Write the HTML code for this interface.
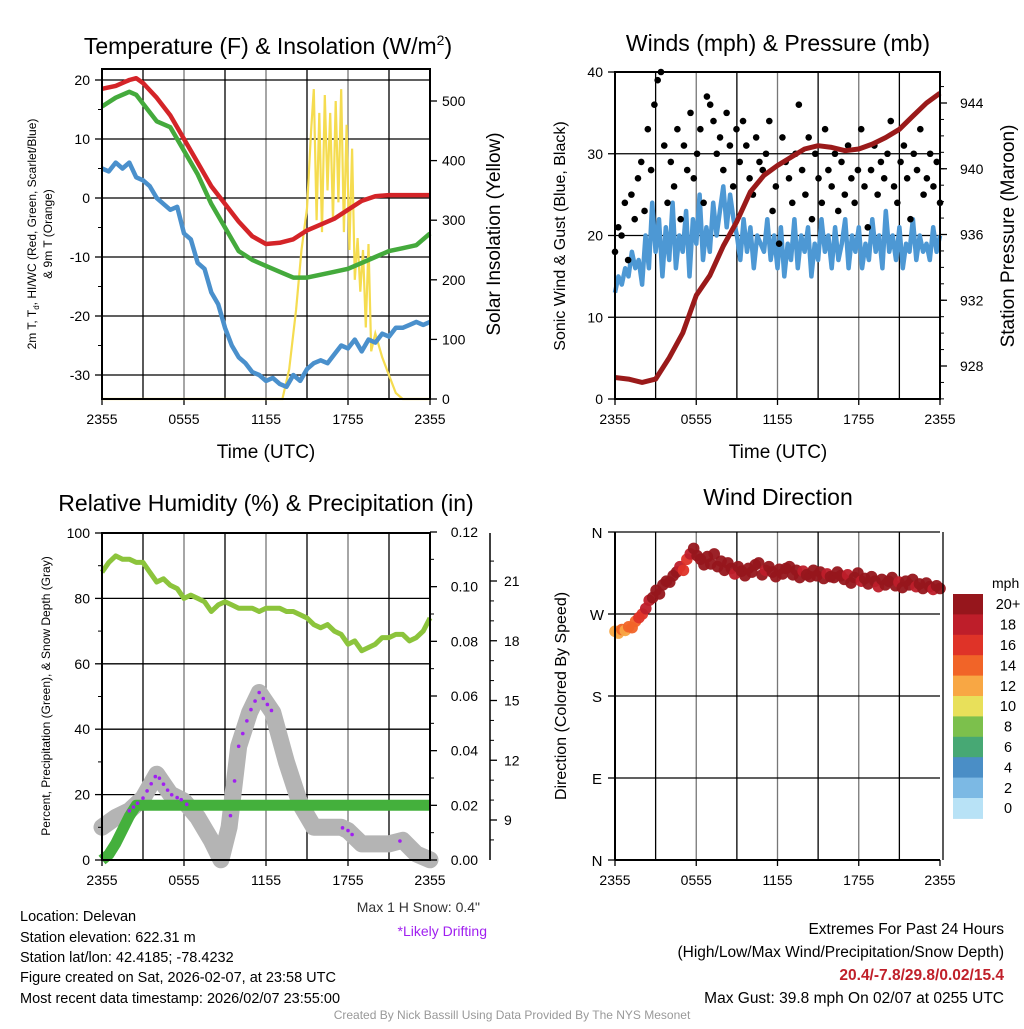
<!DOCTYPE html>
<html><head><meta charset="utf-8">
<style>
html,body{margin:0;padding:0;background:#fff;}
body{width:1024px;height:1024px;overflow:hidden;font-family:"Liberation Sans",sans-serif;}
svg text{font-family:"Liberation Sans",sans-serif;}
</style></head>
<body>
<svg id="chart" width="1024" height="1024" viewBox="0 0 1024 1024" xmlns="http://www.w3.org/2000/svg">
<text x="268" y="54" font-size="23" text-anchor="middle">Temperature (F) &amp; Insolation (W/m<tspan font-size="14" dy="-9">2</tspan><tspan dy="9">)</tspan></text>
<text x="778" y="51" font-size="23" text-anchor="middle">Winds (mph) &amp; Pressure (mb)</text>
<text x="266" y="511" font-size="23" text-anchor="middle">Relative Humidity (%) &amp; Precipitation (in)</text>
<text x="778" y="505" font-size="23" text-anchor="middle">Wind Direction</text>

<text x="266" y="458" font-size="19" text-anchor="middle">Time (UTC)</text>
<text x="778" y="458" font-size="19" text-anchor="middle">Time (UTC)</text>
<text transform="translate(36,234) rotate(-90)" font-size="12" text-anchor="middle">2m T, T<tspan font-size="8" dy="3">d</tspan><tspan dy="-3">, HI/WC (Red, Green, Scarlet/Blue)</tspan></text>
<text transform="translate(52,234) rotate(-90)" font-size="12" text-anchor="middle">&amp; 9m T (Orange)</text>
<text transform="translate(500,234) rotate(-90)" font-size="19" text-anchor="middle">Solar Insolation (Yellow)</text>
<text transform="translate(565,236) rotate(-90)" font-size="16" text-anchor="middle">Sonic Wind &amp; Gust (Blue, Black)</text>
<text transform="translate(1014,236) rotate(-90)" font-size="19" text-anchor="middle">Station Pressure (Maroon)</text>
<text transform="translate(50,696) rotate(-90)" font-size="12" text-anchor="middle">Percent, Precipitation (Green), &amp; Snow Depth (Gray)</text>
<text transform="translate(566,696) rotate(-90)" font-size="16" text-anchor="middle">Direction (Colored By Speed)</text>

<g id="p1"></g>
<g id="p2"></g>
<g id="p3"></g>
<g id="p4"></g>
<g id="cbar"></g>

<text x="480" y="912" font-size="14" fill="#333" text-anchor="end">Max 1 H Snow: 0.4"</text>
<text x="487" y="936" font-size="14" fill="#a020f0" text-anchor="end">*Likely Drifting</text>
<g font-size="14.5">
<text x="20" y="921">Location: Delevan</text>
<text x="20" y="942">Station elevation: 622.31 m</text>
<text x="20" y="962">Station lat/lon: 42.4185; -78.4232</text>
<text x="20" y="982">Figure created on Sat, 2026-02-07, at 23:58 UTC</text>
<text x="20" y="1003">Most recent data timestamp: 2026/02/07 23:55:00</text>
</g>
<g font-size="15.5" text-anchor="end">
<text x="1004" y="934">Extremes For Past 24 Hours</text>
<text x="1004" y="957">(High/Low/Max Wind/Precipitation/Snow Depth)</text>
<text x="1004" y="980" fill="#c0202a" font-weight="bold">20.4/-7.8/29.8/0.02/15.4</text>
<text x="1004" y="1003">Max Gust: 39.8 mph On 02/07 at 0255 UTC</text>
</g>
<text x="512" y="1019" font-size="12" fill="#999" text-anchor="middle">Created By Nick Bassill Using Data Provided By The NYS Mesonet</text>
</svg>
<script>
// ---- data (hours since 2355 UTC) ----
const xTickLabels = ["2355","0555","1155","1755","2355"];
const tempHours = [0,1,2,2.5,3,4,5,6,7,8,9,10,11,12,13,14,15,16,17,18,19,20,21,22,23,24];
const tempVals = [18.5,19,20,20.3,19.5,17,14,10,6,2,-1,-4,-6.5,-7.8,-7.6,-7,-5.5,-4.5,-3.5,-2,-0.5,0.3,0.5,0.5,0.5,0.5];
const dewVals = [15.5,17,18,17.5,16,13,12,8,4,-1,-5,-9,-10.5,-11.5,-12.5,-13.5,-13.5,-13,-12.5,-12,-11,-10,-9,-8.5,-8,-6];
const wcHours = [0,0.5,1,1.5,2,2.5,3,3.5,4,4.5,5,5.5,6,6.5,7,7.5,8,8.5,9,9.5,10,10.5,11,11.5,12,12.5,13,13.5,14,14.5,15,15.5,16,16.5,17,17.5,18,18.5,19,19.5,20,20.5,21,21.5,22,22.5,23,23.5,24];
const wcVals = [5,4.5,6,5,6,3.5,3,2,0,-1,-2,-1.5,-6,-7,-11,-12,-16,-18,-22,-25,-27,-28,-29.5,-30,-31,-30.5,-31.5,-32,-30,-31,-29,-28,-27.5,-28,-26.5,-25,-25.5,-24,-26,-24,-24.5,-23,-23.5,-22,-22,-21.5,-21,-21.5,-21];
const solarHours = [0,13.2,13.7,14.2,14.6,15,15.3,15.5,15.7,15.9,16.1,16.3,16.5,16.7,16.9,17.1,17.3,17.5,17.7,17.9,18.1,18.3,18.5,18.7,18.9,19.1,19.3,19.5,19.7,20,20.5,21,21.5,22,24];
const solarVals = [0,0,50,150,250,320,450,520,300,480,280,510,350,480,300,500,330,520,280,460,250,420,200,270,180,250,120,260,80,110,70,40,10,0,0];
const temp1Ticks = [-30,-20,-10,0,10,20];
const solarTicks = [0,100,200,300,400,500];

const windHours = [0,0.25,0.5,0.75,1,1.25,1.5,1.75,2,2.25,2.5,2.75,3,3.25,3.5,3.75,4,4.25,4.5,4.75,5,5.25,5.5,5.75,6,6.25,6.5,6.75,7,7.25,7.5,7.75,8,8.25,8.5,8.75,9,9.25,9.5,9.75,10,10.25,10.5,10.75,11,11.25,11.5,11.75,12,12.25,12.5,12.75,13,13.25,13.5,13.75,14,14.25,14.5,14.75,15,15.25,15.5,15.75,16,16.25,16.5,16.75,17,17.25,17.5,17.75,18,18.25,18.5,18.75,19,19.25,19.5,19.75,20,20.25,20.5,20.75,21,21.25,21.5,21.75,22,22.25,22.5,22.75,23,23.25,23.5,23.75,24];
const windVals = [13,15,14,16,15,18,16,17,14,20,16,24,18,22,15,21,17,24,16,20,18,23,15,22,19,25,17,21,18,24,20,23,26,21,25,22,20,17,22,18,21,16,20,19,18,22,17,20,16,21,15,19,17,22,16,20,18,21,15,19,17,22,18,20,16,21,17,19,22,16,20,18,21,16,19,17,22,18,20,16,23,18,20,17,21,16,19,18,22,17,20,18,19,17,21,18,20,18,19];
const gustVals = [18,21,20,24,17,25,22,27,29,23,33,28,36,39,40,31,24,29,26,33,22,31,28,35,27,30,33,24,37,36,34,30,32,28,35,31,26,33,29,34,31,27,25,32,29,28,30,34,23,26,19,32,29,27,24,30,36,28,25,32,22,30,27,24,33,28,26,30,23,29,25,31,27,24,28,33,26,21,28,31,25,29,27,30,34,26,24,29,31,27,22,30,28,33,25,27,30,26,29,24];
const pressHours = [0,1,2,3,4,5,6,7,8,9,10,11,12,13,14,15,16,17,18,19,20,21,22,23,24];
const pressVals = [927.3,927.2,927.0,927.2,928.5,930,932.3,933.5,935.3,936.8,938.6,939.6,940.2,940.7,941.2,941.4,941.3,941.1,941.2,941.5,941.9,942.4,943.2,944,944.6];
const windTicks = [0,10,20,30,40];
const pressTicks = [928,932,936,940,944];

const rhHours = [0,0.5,1,1.5,2,2.5,3,3.5,4,4.5,5,5.5,6,6.5,7,7.5,8,8.5,9,9.5,10,10.5,11,11.5,12,12.5,13,13.5,14,14.5,15,15.5,16,16.5,17,17.5,18,18.5,19,19.5,20,20.5,21,21.5,22,22.5,23,23.5,24];
const rhVals = [88,91,93,92,92,91,91,88,85,86,84,83,80,81,80,79,76,78,79,78,77,77,77,76,77,77,77,76,76,75,74,72,71,72,70,69,66,67,64,65,66,68,68,69,69,67,68,70,74];
const snowHours = [0,1,2,3,4,5,6,7,8,8.7,9.3,10,10.8,11.5,12.5,13.5,14.5,15.5,16.5,17.5,18,19,20,21,22,23,24];
const snowVals = [8.64,9.13,9.46,10.1,11.3,10.3,9.95,9.13,7.98,7.0,8.64,12.7,14.4,15.4,14.4,11.9,9.8,8.64,8.64,8.64,8.47,7.8,7.8,7.8,7.98,7.3,7.0];
const driftHours = [2,2.3,2.6,3,3.3,3.6,3.9,4.2,4.5,4.8,5.1,5.5,5.8,6.2,9.4,9.7,10,10.3,10.6,10.9,11.2,11.5,11.8,12.1,12.4,17.6,18,18.3,21.8];
const precipHours = [0,0.5,1,1.5,2,2.5,24];
const precipVals = [0,0.002,0.006,0.011,0.016,0.02,0.02];
const rhTicks = [0,20,40,60,80,100];
const precipTicks = [0,0.02,0.04,0.06,0.08,0.10,0.12];
const snowTicks = [9,12,15,18,21];

const dirVals = [251,249,253,252,256,255,262,266,270,276,285,288,296,292,302,306,305,312,316,322,318,330,336,342,334,330,324,333,325,336,322,328,318,326,320,314,322,317,312,320,316,324,326,313,318,322,316,311,319,314,320,322,313,318,310,317,313,311,318,312,316,309,314,311,310,316,312,308,313,304,310,315,306,309,303,311,306,300,308,302,306,310,301,305,299,306,302,308,300,303,298,304,300,297,301,298];
const dirSpeeds = [13,13,14,13,14,14,15,16,17,18,19,20,20,20,20,21,20,21,20,18,16,17,18,20,21,20,21,20,20,21,20,21,20,20,20,18,21,20,20,20,20,21,20,20,19,20,20,21,20,20,20,20,21,20,20,19,20,20,20,20,21,20,19,20,20,20,20,20,19,20,20,20,18,20,20,20,20,19,20,20,20,20,20,18,20,20,20,20,19,20,20,20,20,18,20,20];
const dirTickLabels = ["N","E","S","W","N"];
const cbarLabels = ["20+","18","16","14","12","10","8","6","4","2","0"];
const cbarColors = ["#96161c","#be1e2a","#df3328","#f16428","#f8a744","#e8e05a","#7cc04c","#47a874","#4a8ec6","#7cb9e4","#b8e2f6"];

// ---- helpers ----
const NS="http://www.w3.org/2000/svg";
function mk(parent,tag,attrs){const e=document.createElementNS(NS,tag);for(const k in attrs)e.setAttribute(k,attrs[k]);parent.appendChild(e);return e;}
function lin(d0,d1,r0,r1){return v=>r0+(v-d0)*(r1-r0)/(d1-d0);}
function pathD(xs,ys,fx,fy){return xs.map((x,i)=>(i?"L":"M")+fx(x).toFixed(1)+","+fy(ys[i]).toFixed(1)).join("");}
function txt(parent,x,y,s,size,anchor){const t=mk(parent,"text",{x:x,y:y,"font-size":size,"text-anchor":anchor||"middle"});t.textContent=s;return t;}

function frame(g,L,R,T,B,fx,gridLeftVals,fy){
  for(let h=3;h<24;h+=3){const l=mk(g,"line",{x1:fx(h),x2:fx(h),y1:T,y2:B,stroke:(h%6===0?"#777":"#000"),"stroke-width":1.3});
    
    }
  gridLeftVals.forEach(v=>{const y=fy(v);const l=mk(g,"line",{x1:L,x2:R,y1:y,y2:y,stroke:"#000","stroke-width":1.3});
    
    });
  xTickLabels.forEach((s,i)=>{const x=fx(i*6);mk(g,"line",{x1:x,x2:x,y1:B,y2:B+6,stroke:"#000","stroke-width":1.3});
    const t=txt(g,x,B+25,s,14);
    
    });
}

// ---- panel 1 ----
(function(){
 const g=document.getElementById("p1");const L=102,R=430,T=69,B=399;
 const fx=lin(0,24,L,R), fy=lin(20,-30,80,375), fs=lin(0,500,399,101);
 frame(g,L,R,T,B,fx,temp1Ticks,fy);
 const sol=mk(g,"path",{d:pathD(solarHours,solarVals,fx,fs),fill:"none",stroke:"#f5dc50","stroke-width":2.2});
 
 
 const wc=mk(g,"path",{d:pathD(wcHours,wcVals,fx,fy),fill:"none",stroke:"#4a90cc","stroke-width":4.5,"stroke-linejoin":"round"});
 
 
 const dw=mk(g,"path",{d:pathD(tempHours,dewVals,fx,fy),fill:"none",stroke:"#44aa3c","stroke-width":4.5,"stroke-linejoin":"round"});
 
 
 const tp=mk(g,"path",{d:pathD(tempHours,tempVals,fx,fy),fill:"none",stroke:"#d42428","stroke-width":4.5,"stroke-linejoin":"round"});
 
 
 mk(g,"rect",{x:L,y:T,width:R-L,height:B-T,fill:"none",stroke:"#000","stroke-width":2});
 temp1Ticks.forEach(v=>{const y=fy(v);mk(g,"line",{x1:L-7,x2:L,y1:y,y2:y,stroke:"#000","stroke-width":1.3});
   const t=txt(g,L-12,y+5,String(v),14,"end");
   
   });
 for(let v=-25;v<=15;v+=10){const y=fy(v);mk(g,"line",{x1:L-4,x2:L,y1:y,y2:y,stroke:"#000"});}
 solarTicks.forEach(v=>{const y=fs(v);mk(g,"line",{x1:R,x2:R+7,y1:y,y2:y,stroke:"#000","stroke-width":1.3});
   const t=txt(g,R+12,y+5,String(v),14,"start");
   
   });
})();

// ---- panel 2 ----
(function(){
 const g=document.getElementById("p2");const L=615,R=940,T=72,B=399;
 const fx=lin(0,24,L,R), fy=lin(0,40,399,72), fp=lin(928,944,366,103);
 frame(g,L,R,T,B,fx,[10,20,30,40],fy);
 const wl=mk(g,"path",{d:pathD(windHours,windVals,fx,fy),fill:"none",stroke:"#4d98d4","stroke-width":4.5,"stroke-linejoin":"round"});
 
 
 gustVals.forEach((v,i)=>{const c=mk(g,"circle",{cx:fx(i*24/(gustVals.length-1)),cy:fy(v),r:3.3,fill:"#000"});
   
   });
 const pl=mk(g,"path",{d:pathD(pressHours,pressVals,fx,fp),fill:"none",stroke:"#9a1a1a","stroke-width":5,"stroke-linejoin":"round"});
 
 
 mk(g,"rect",{x:L,y:T,width:R-L,height:B-T,fill:"none",stroke:"#000","stroke-width":2});
 windTicks.forEach(v=>{const y=fy(v);mk(g,"line",{x1:L-7,x2:L,y1:y,y2:y,stroke:"#000","stroke-width":1.3});
   const t=txt(g,L-12,y+5,String(v),14,"end");
   
   });
 pressTicks.forEach(v=>{const y=fp(v);mk(g,"line",{x1:R,x2:R+7,y1:y,y2:y,stroke:"#000","stroke-width":1.3});
   const t=txt(g,R+20,y+5,String(v),14,"start");
   
   });
 for(let v=926;v<=946;v+=1){const y=fp(v);if(y<T||y>B)continue;mk(g,"line",{x1:R,x2:R+4,y1:y,y2:y,stroke:"#000"});}
})();

// ---- panel 3 ----
(function(){
 const g=document.getElementById("p3");const L=102,R=430,T=533,B=860;
 const fx=lin(0,24,L,R), fy=lin(0,100,860,533), fpr=lin(0,0.12,860,532), fsn=lin(9,21,820,581);
 frame(g,L,R,T,B,fx,[20,40,60,80],fy);
 const sl=mk(g,"path",{d:pathD(snowHours,snowVals,fx,fsn),fill:"none",stroke:"#b4b4b4","stroke-width":17,"stroke-linejoin":"round","stroke-linecap":"round"});
 
 
 const si=(h)=>{for(let i=1;i<snowHours.length;i++){if(h<=snowHours[i]){const a=snowHours[i-1],b=snowHours[i];return snowVals[i-1]+(snowVals[i]-snowVals[i-1])*(h-a)/(b-a);}}return snowVals[snowVals.length-1];};
 const pr=mk(g,"path",{d:pathD(precipHours,precipVals,fx,fpr),fill:"none",stroke:"#44b03c","stroke-width":11,"stroke-linejoin":"round"});
 
 
 driftHours.forEach(h=>{const c=mk(g,"circle",{cx:fx(h),cy:fsn(si(h)),r:1.8,fill:"#a020f0"});
   
   });
 const rl=mk(g,"path",{d:pathD(rhHours,rhVals,fx,fy),fill:"none",stroke:"#8cc43c","stroke-width":5,"stroke-linejoin":"round"});
 
 
 mk(g,"rect",{x:L,y:T,width:R-L,height:B-T,fill:"none",stroke:"#000","stroke-width":2});
 rhTicks.forEach(v=>{const y=fy(v);mk(g,"line",{x1:L-7,x2:L,y1:y,y2:y,stroke:"#000","stroke-width":1.3});
   const t=txt(g,L-12,y+5,String(v),14,"end");
   
   });
 for(let v=10;v<=90;v+=20){const y=fy(v);mk(g,"line",{x1:L-4,x2:L,y1:y,y2:y,stroke:"#000"});}
 precipTicks.forEach(v=>{const y=fpr(v);mk(g,"line",{x1:R,x2:R+7,y1:y,y2:y,stroke:"#000","stroke-width":1.3});
   const t=txt(g,R+48,y+5,v.toFixed(2),14,"end");
   
   });
 for(let v=0.01;v<0.13;v+=0.02){const y=fpr(v);mk(g,"line",{x1:R,x2:R+4,y1:y,y2:y,stroke:"#000"});}
 mk(g,"line",{x1:490,x2:490,y1:533,y2:860,stroke:"#000","stroke-width":1.5});
 snowTicks.forEach(v=>{const y=fsn(v);mk(g,"line",{x1:490,x2:497,y1:y,y2:y,stroke:"#000","stroke-width":1.3});
   const t=txt(g,504,y+5,String(v),14,"start");
   
   });
 for(let v=8;v<=22;v+=1){if(v%3===0)continue;const y=fsn(v);if(y<533||y>860)continue;mk(g,"line",{x1:490,x2:494,y1:y,y2:y,stroke:"#000"});}
})();

// ---- panel 4 ----
function speedColor(s){let idx=Math.min(10,Math.max(0,10-Math.floor(s/2)));return cbarColors[idx];}
(function(){
 const g=document.getElementById("p4");const L=615,R=940,T=532,B=860;
 const fx=lin(0,24,L,R), fy=lin(0,360,860,532);
 frame(g,L,R,T,B,fx,[90,180,270,360],fy);
 dirVals.forEach((v,i)=>{const c=mk(g,"circle",{cx:fx(i*24/(dirVals.length-1)),cy:fy(v),r:5.8,fill:speedColor(dirSpeeds[i]),"fill-opacity":0.95});
   
   });
 mk(g,"line",{x1:L,x2:L,y1:T,y2:B,stroke:"#000","stroke-width":2});
 mk(g,"line",{x1:L,x2:R,y1:B,y2:B,stroke:"#000","stroke-width":2});
 mk(g,"line",{x1:943,x2:943,y1:T,y2:B,stroke:"#000","stroke-width":1.3});
 dirTickLabels.forEach((s,i)=>{const y=fy(i*90);mk(g,"line",{x1:L-7,x2:L,y1:y,y2:y,stroke:"#000","stroke-width":1.3});
   const t=txt(g,L-18,y+6,s,15,"middle");
   
   });
})();

// ---- colorbar ----
(function(){
 const g=document.getElementById("cbar");const top=594,h=20.4;
 const m=txt(g,992,588,"mph",14,"start");
 
 
 cbarColors.forEach((c,i)=>{const r=mk(g,"rect",{x:953,y:top+i*h,width:30,height:h+0.5,fill:c});
   
   
   const t=txt(g,1008,top+i*h+h/2+5,cbarLabels[i],14.5,"middle");
   
   });
})();
</script>
</body></html>
